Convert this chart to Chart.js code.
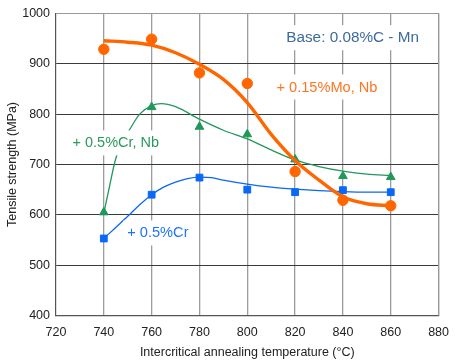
<!DOCTYPE html>
<html>
<head>
<meta charset="utf-8">
<script src="https://cdn.jsdelivr.net/npm/chart.js@4"></script>
<style>
  html, body { margin: 0; padding: 0; background: #fff; }
  #wrap { width: 459px; height: 362px; }
</style>
</head>
<body>
<div id="wrap"><canvas id="tensileChart"></canvas></div>
<script>
// measured points (annealing temperature, °C)
const temps = [740, 760, 780, 800, 820, 840, 860];
const moNb = [929, 949, 882, 861, 686, 629, 618];   // + 0.15%Mo, Nb
const crNb = [605, 814, 775, 760, 710, 677, 675];   // + 0.5%Cr, Nb
const cr   = [553, 640, 674, 650, 645, 649, 645];   // + 0.5%Cr

// fitted trend curves
const moNbFitT = [740, 750, 760, 770, 780, 790, 800, 810, 820, 830, 840, 850, 860];
const moNbFitV = [946, 943, 937, 922, 899, 869, 823, 760, 708, 669, 636, 622, 618];
const crNbFitT = [740, 742, 745, 748, 751, 755, 760, 764, 770, 780, 790, 800, 810, 820, 830, 840, 850, 860];
const crNbFitV = [603, 648, 712, 746, 771, 800, 817, 821, 815, 790, 768, 751, 729, 709, 696, 687, 681, 678];
const crFitT = [740, 745, 750, 755, 760, 765, 770, 775, 780, 785, 790, 800, 810, 820, 830, 840, 850, 860];
const crFitV = [553, 575, 597, 620, 640, 655, 665, 672, 675, 674, 669, 661, 655, 651, 648, 646, 645, 645];

const xTicks = [720, 740, 760, 780, 800, 820, 840, 860, 880];
const yTicks = [400, 500, 600, 700, 800, 900, 1000];

// text labels placed in data units
const notes = [
    { text: 'Base: 0.08%C - Mn', x: 816.3, y: 951, color: '#3c6a9f', size: 15.3 },
    { text: '+ 0.15%Mo, Nb', x: 812.2, y: 853, color: '#ff7420', size: 14.6 },
    { text: '+ 0.5%Cr, Nb', x: 726.9, y: 742, color: '#2a9a5e', size: 14.5 },
    { text: '+ 0.5%Cr', x: 749.8, y: 563, color: '#1f74ff', size: 14.6 }
];

const ORANGE = '#ff6600';
const GREEN = '#20985a';
const BLUE = '#0a68f5';
const FONT = "'Liberation Sans', Arial, sans-serif";

const toXY = (xs, ys) => xs.map((x, i) => ({ x: x, y: ys[i] }));

const boxPlugin = {
    id: 'boxPlugin',
    beforeDatasetsDraw(chart) {
        const { ctx, chartArea: a } = chart;
        ctx.save();
        ctx.strokeStyle = '#999';
        ctx.lineWidth = 1.2;
        ctx.beginPath();
        ctx.moveTo(a.left, a.top);
        ctx.lineTo(a.right, a.top);
        ctx.lineTo(a.right, a.bottom);
        ctx.stroke();
        ctx.restore();
    },
    afterDatasetsDraw(chart) {
        const { ctx, scales } = chart;
        ctx.save();
        notes.forEach(n => {
            ctx.font = n.size + 'px ' + FONT;
            const px = scales.x.getPixelForValue(n.x);
            const py = scales.y.getPixelForValue(n.y);
            const w = ctx.measureText(n.text).width;
            ctx.fillStyle = '#fff';
            ctx.fillRect(px - 4, py - 13, w + 8, 25);
            ctx.fillStyle = n.color;
            ctx.textAlign = 'left';
            ctx.textBaseline = 'middle';
            ctx.fillText(n.text, px, py);
        });
        ctx.restore();
    }
};

const ctx = document.getElementById('tensileChart').getContext('2d');
new Chart(ctx, {
    type: 'scatter',
    data: {
        datasets: [
            {
                label: 'Mo Nb fit', data: toXY(moNbFitT, moNbFitV), showLine: true,
                borderColor: ORANGE, borderWidth: 3.4, pointRadius: 0,
                cubicInterpolationMode: 'monotone', order: 1
            },
            {
                label: '+ 0.15%Mo, Nb', data: toXY(temps, moNb),
                backgroundColor: ORANGE, borderColor: ORANGE, pointRadius: 5.2,
                pointStyle: 'circle', order: 0
            },
            {
                label: 'Cr Nb fit', data: toXY(crNbFitT, crNbFitV), showLine: true,
                borderColor: GREEN, borderWidth: 1.3, pointRadius: 0,
                cubicInterpolationMode: 'monotone', order: 3
            },
            {
                label: '+ 0.5%Cr, Nb', data: toXY(temps, crNb),
                backgroundColor: GREEN, borderColor: GREEN, pointRadius: 5,
                pointStyle: 'triangle', order: 2
            },
            {
                label: 'Cr fit', data: toXY(crFitT, crFitV), showLine: true,
                borderColor: BLUE, borderWidth: 1.3, pointRadius: 0,
                cubicInterpolationMode: 'monotone', order: 5
            },
            {
                label: '+ 0.5%Cr', data: toXY(temps, cr),
                backgroundColor: BLUE, borderColor: BLUE, pointRadius: 4.8,
                pointStyle: 'rect', order: 4
            }
        ]
    },
    options: {
        responsive: true,
        maintainAspectRatio: false,
        animation: false,
        layout: { padding: { left: 0, right: 11, top: 9, bottom: 0 } },
        plugins: { legend: { display: false }, tooltip: { enabled: false } },
        scales: {
            x: {
                type: 'linear', min: 720, max: 880,
                afterBuildTicks: s => { s.ticks = xTicks.map(v => ({ value: v })); },
                afterFit: s => { s.height = 46.5; },
                grid: {
                    color: c => (c.tick && c.tick.value === 720) ? 'rgba(0,0,0,0)' : '#9c9c9c',
                    lineWidth: 1.3, drawTicks: false
                },
                border: { color: '#555', width: 1.2 },
                ticks: {
                    color: '#222', padding: 10, font: { family: FONT, size: 12.5 },
                    callback: v => String(v)
                },
                title: {
                    display: true, text: 'Intercritical annealing temperature (°C)',
                    color: '#222', font: { family: FONT, size: 12.5 }, padding: { top: 0, bottom: 1.5 }
                }
            },
            y: {
                type: 'linear', min: 400, max: 1000,
                afterBuildTicks: s => { s.ticks = yTicks.map(v => ({ value: v })); },
                afterFit: s => { s.width = 56; },
                grid: {
                    color: c => (c.tick && c.tick.value === 1000) ? '#999' : '#3a3a3a',
                    lineWidth: 1, drawTicks: false
                },
                border: { color: '#555', width: 1.2 },
                ticks: {
                    color: '#222', padding: 6, font: { family: FONT, size: 12.5 },
                    callback: v => String(v)
                },
                title: {
                    display: true, text: 'Tensile strength (MPa)',
                    color: '#222', font: { family: FONT, size: 12.5 }, padding: { top: 5.5, bottom: 0 }
                }
            }
        }
    },
    plugins: [boxPlugin]
});
</script>
</body>
</html>
